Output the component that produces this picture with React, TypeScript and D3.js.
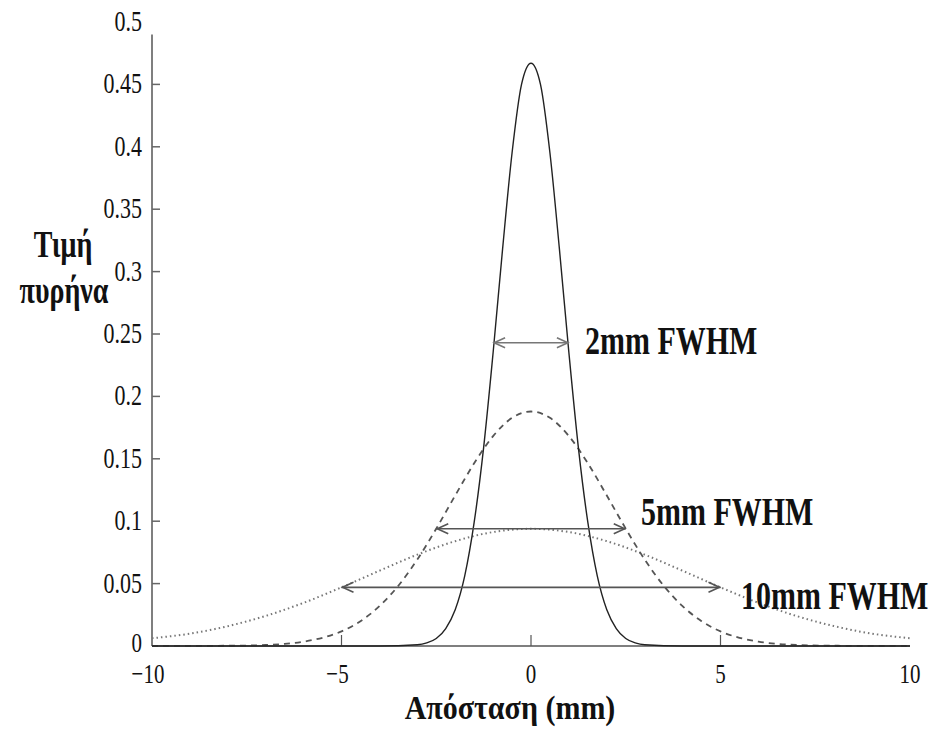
import React, { useEffect, useRef } from 'react';
import * as d3 from 'd3';

// kernel value vs distance (mm)
const solidX = [-10, -4, -3, -2.75, -2.5, -2.25, -2, -1.75, -1.5, -1.25, -1, -0.75, -0.5, -0.25, 0, 0.25, 0.5, 0.75, 1, 1.25, 1.5, 1.75, 2, 2.25, 2.5, 2.75, 3, 4, 10];
const solidY = [0, 0, 0.001, 0.0025, 0.006, 0.014, 0.029, 0.056, 0.099, 0.159, 0.235, 0.318, 0.395, 0.45, 0.467, 0.45, 0.395, 0.318, 0.235, 0.159, 0.099, 0.056, 0.029, 0.014, 0.006, 0.0025, 0.001, 0, 0];

const dashedX = [-10, -9, -8, -7, -6.5, -6, -5.5, -5, -4.5, -4, -3.5, -3, -2.5, -2, -1.5, -1, -0.5, 0, 0.5, 1, 1.5, 2, 2.5, 3, 3.5, 4, 4.5, 5, 5.5, 6, 6.5, 7, 8, 9, 10];
const dashedY = [0, 0.0001, 0.0002, 0.0008, 0.0017, 0.0035, 0.0066, 0.0117, 0.0199, 0.0319, 0.0483, 0.0693, 0.094, 0.1206, 0.1464, 0.1682, 0.1828, 0.1879, 0.1828, 0.1682, 0.1464, 0.1206, 0.094, 0.0693, 0.0483, 0.0319, 0.0199, 0.0117, 0.0066, 0.0035, 0.0017, 0.0008, 0.0002, 0.0001, 0];

const dottedX = [-10, -9, -8, -7, -6, -5, -4, -3, -2, -1, 0, 1, 2, 3, 4, 5, 6, 7, 8, 9, 10];
const dottedY = [0.0062, 0.0099, 0.0159, 0.0241, 0.0346, 0.047, 0.0603, 0.0732, 0.084, 0.0913, 0.0939, 0.0913, 0.084, 0.0732, 0.0603, 0.047, 0.0346, 0.0241, 0.0159, 0.0099, 0.0062];

// FWHM arrows: from, to, height, label
const arrowFrom = [-1, -2.5, -5];
const arrowTo = [1, 2.5, 5];
const arrowY = [0.243, 0.094, 0.047];
const arrowLabels = ['2mm FWHM', '5mm FWHM', '10mm FWHM'];

const yTicks = [0, 0.05, 0.1, 0.15, 0.2, 0.25, 0.3, 0.35, 0.4, 0.45, 0.5];
const yTickLabels = ['0', '0.05', '0.1', '0.15', '0.2', '0.25', '0.3', '0.35', '0.4', '0.45', '0.5'];
const xTicks = [-10, -5, 0, 5, 10];
const xTickLabels = ['\u221210', '\u22125', '0', '5', '10'];

const App = () => {
    const svgRef = useRef<SVGSVGElement>(null);

    useEffect(() => {
        const svg = d3.select(svgRef.current);
        svg.selectAll('*').remove();

        const x = d3.scaleLinear().domain([-10, 10]).range([152, 910]);
        const y = d3.scaleLinear().domain([0, 0.5]).range([646, 22]);
        const font = '"Liberation Serif", "Times New Roman", serif';

        // the picture is squashed sideways, so text gets a vertical stretch
        const label = (tx, ty, txt, size, bold, anchor, stretch = 1.33) => {
            svg.append('text')
                .attr('transform', `translate(${tx},${ty}) scale(1,${stretch})`)
                .attr('font-family', font)
                .attr('font-size', size)
                .attr('font-weight', bold ? 'bold' : 'normal')
                .attr('text-anchor', anchor)
                .attr('fill', '#111')
                .text(txt);
        };

        // axes
        svg.append('line')
            .attr('x1', x(-10)).attr('x2', x(-10))
            .attr('y1', y(0.49)).attr('y2', y(0))
            .attr('stroke', '#555').attr('stroke-width', 1.5);
        svg.append('line')
            .attr('x1', x(-10)).attr('x2', x(10))
            .attr('y1', y(0)).attr('y2', y(0))
            .attr('stroke', '#555').attr('stroke-width', 1.5);

        yTicks.forEach((v, i) => {
            if (v > 0 && v < 0.5) {
                svg.append('line')
                    .attr('x1', x(-10)).attr('x2', x(-10) + 8)
                    .attr('y1', y(v)).attr('y2', y(v))
                    .attr('stroke', '#666').attr('stroke-width', 1.5);
            }
            label(142, y(v) + (v === 0 ? 6 : 9), yTickLabels[i], v === 0 ? 21 : 22, false, 'end');
        });

        xTicks.forEach((v, i) => {
            if (v > -10 && v < 10) {
                svg.append('line')
                    .attr('x1', x(v)).attr('x2', x(v))
                    .attr('y1', y(0)).attr('y2', y(0) - 11)
                    .attr('stroke', '#555').attr('stroke-width', 1.2);
            }
            label(x(v) - (v < 0 ? 4 : 0), 683, xTickLabels[i], 21, false, 'middle');
        });

        // curves
        const line = d3.line<number>()
            .curve(d3.curveMonotoneX);

        const drawCurve = (xs, ys, dash, color, width) => {
            svg.append('path')
                .attr('d', line.x((d, i) => x(xs[i])).y(d => y(d))(ys))
                .attr('fill', 'none')
                .attr('stroke', color)
                .attr('stroke-width', width)
                .attr('stroke-dasharray', dash);
        };

        drawCurve(dottedX, dottedY, '1.5,3', '#777', 2);
        drawCurve(dashedX, dashedY, '6,5', '#555', 1.8);
        drawCurve(solidX, solidY, null, '#222', 1.4);

        // FWHM arrows
        arrowFrom.forEach((a, i) => {
            const x1 = x(a);
            const x2 = x(arrowTo[i]);
            const yy = y(arrowY[i]);
            const c = i === 0 ? '#777' : '#555';
            svg.append('line')
                .attr('x1', x1).attr('x2', x2)
                .attr('y1', yy).attr('y2', yy)
                .attr('stroke', c).attr('stroke-width', 1.6);
            svg.append('path')
                .attr('d', `M${x1 + 12},${yy - 5}L${x1 + 1},${yy}L${x1 + 12},${yy + 5}M${x2 - 12},${yy - 5}L${x2 - 1},${yy}L${x2 - 12},${yy + 5}`)
                .attr('fill', 'none')
                .attr('stroke', c).attr('stroke-width', 1.6);
        });

        label(585, 354, arrowLabels[0], 30, true, 'start');
        label(641, 525, arrowLabels[1], 30, true, 'start');
        label(741, 609, arrowLabels[2], 30, true, 'start');

        // axis titles
        label(63, 257, 'Τιμή', 28, true, 'middle');
        label(64, 303, 'πυρήνα', 28, true, 'middle');
        label(510, 719, 'Απόσταση (mm)', 30, true, 'middle', 1.15);
    }, []);

    return (
        <svg ref={svgRef} width="933" height="734"
            style={{ position: 'absolute', left: 0, top: 0, background: '#fff' }}></svg>
    );
};

export default App;
